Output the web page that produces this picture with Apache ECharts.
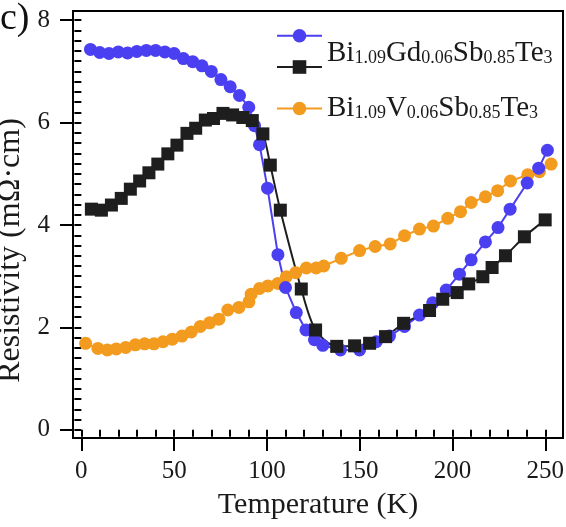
<!DOCTYPE html>
<html><head><meta charset="utf-8">
<script src="https://cdn.jsdelivr.net/npm/echarts@6/dist/echarts.min.js"></script>
<style>html,body{margin:0;padding:0;background:#fff}#c{width:566px;height:527px}</style>
</head><body><div id="c"></div>
<script>
// Bi1.09Gd0.06Sb0.85Te3 (blue circles)
const gdCircT = [4.9,9.9,14.9,19.9,24.9,29.9,35,40,45,50,55,60,65,70,75.2,80.2,85.2,90.2,93.3,96,100.3,105.9,110,115.8,121,125.6,130.1,139.6,149.9,158.9,166,174.1,182.2,189.3,196.6,203.7,210,217.7,224.5,231,240.2,246.4,251.1];
const gdCircR = [7.43,7.37,7.35,7.38,7.36,7.39,7.41,7.41,7.38,7.35,7.25,7.19,7.11,7.00,6.84,6.70,6.53,6.30,5.94,5.57,4.72,3.42,2.78,2.29,1.95,1.76,1.65,1.56,1.56,1.72,1.83,2.02,2.24,2.48,2.73,3.04,3.32,3.67,3.95,4.31,4.82,5.11,5.46];
// Bi1.09Gd0.06Sb0.85Te3 (black squares)
const gdSqT = [5.4,10.8,16.2,21.5,26.4,31.4,36.4,41.2,46.6,51.5,56.9,61.6,66.8,71.2,76.3,81.5,87,92.1,97.8,101.8,107.2,118.5,126.2,137.6,147.2,155.3,163.9,173.6,187.6,194.7,202.5,208.7,216.3,221.3,228.5,238.7,249.9];
const gdSqR = [4.31,4.29,4.39,4.52,4.70,4.86,5.02,5.19,5.39,5.56,5.79,5.89,6.05,6.08,6.18,6.15,6.10,6.04,5.78,5.17,4.29,2.75,1.95,1.63,1.64,1.69,1.82,2.08,2.33,2.55,2.68,2.85,2.99,3.17,3.40,3.77,4.10];
// Bi1.09V0.06Sb0.85Te3 (orange circles)
const vT = [2.3,8.9,14,18.8,23.9,29.1,34.1,39.1,44,49,54.2,59.2,64.1,69.1,74.1,78.9,84.9,90.3,91.5,96,100.5,105.9,110.4,115.5,121.2,126.5,130.6,140,149.9,158.3,166.4,174.1,182.2,189.7,197.4,204.3,210,217.7,224.3,231.2,240.5,246.8,253.1];
const vR = [1.69,1.59,1.56,1.58,1.61,1.66,1.68,1.68,1.72,1.77,1.83,1.91,2.02,2.09,2.16,2.34,2.39,2.50,2.65,2.76,2.81,2.86,2.99,3.07,3.16,3.16,3.20,3.35,3.50,3.58,3.63,3.79,3.92,3.98,4.13,4.26,4.44,4.55,4.67,4.86,4.98,5.04,5.19];

const xTickLabels = [0,50,100,150,200,250];
const xMinorTicks = [0,10,20,30,40,50,60,70,80,90,100,110,120,130,140,150,160,170,180,190,200,210,220,230,240,250];
const yTickLabels = [0,2,4,6,8];
const yMinorTicks = [0,0.2,0.4,0.6,0.8,1,1.2,1.4,1.6,1.8,2,2.2,2.4,2.6,2.8,3,3.2,3.4,3.6,3.8,4,4.2,4.4,4.6,4.8,5,5.2,5.4,5.6,5.8,6,6.2,6.4,6.6,6.8,7,7.2,7.4,7.6,7.8,8];

const zip = (a,b) => a.map((v,i)=>[v,b[i]]);
const FONT = 'Liberation Serif';
const TXT = '#1a1a1a';
const GD_LABEL = '{m|Bi}{s|1.09}{m|Gd}{s|0.06}{m|Sb}{s|0.85}{m|Te}{s|3}';
const V_LABEL = '{m|Bi}{s|1.09}{m|V}{s|0.06}{m|Sb}{s|0.85}{m|Te}{s|3}';
const rich = {
  m:{fontFamily:FONT,fontSize:29,color:TXT,lineHeight:30},
  s:{fontFamily:FONT,fontSize:18,color:TXT,lineHeight:18,padding:[9,0,0,0]}
};
const X_MIN=-4.5, X_MAX=259.5, Y_MIN=-0.16, Y_MAX=8.18;
const legendBase = {left:276, orient:'vertical', itemWidth:45, itemHeight:17, selectedMode:false, padding:0};

const chart = echarts.init(document.getElementById('c'), null, {renderer:'canvas'});
chart.setOption({
  animation:false,
  backgroundColor:'#fff',
  grid:{left:73, right:3, top:11, bottom:89, containLabel:false, outerBoundsMode:'none',
        show:true, borderColor:'#000', borderWidth:2, backgroundColor:'transparent'},
  graphic:[{type:'text', left:0, top:0, style:{text:'c)', fontFamily:FONT, fontSize:38, fill:'#111'}}],
  legend:[
    Object.assign({}, legendBase, {top:29, data:['gdCirc'], formatter:()=>GD_LABEL, textStyle:{rich, padding:[36,0,0,0]}}),
    Object.assign({}, legendBase, {top:58.5, data:['gdSq'], formatter:()=>''}),
    Object.assign({}, legendBase, {top:94, data:['v'], formatter:()=>V_LABEL, textStyle:{rich}})
  ],
  xAxis:[
    {type:'value', min:X_MIN, max:X_MAX, position:'bottom',
     name:'Temperature (K)', nameLocation:'middle', nameGap:52,
     nameTextStyle:{fontFamily:FONT, fontSize:30, color:TXT},
     axisLine:{show:true, onZero:false, lineStyle:{color:'#000', width:2}},
     axisTick:{show:true, customValues:xTickLabels, length:13, lineStyle:{color:'#000', width:2}},
     axisLabel:{customValues:xTickLabels, margin:21, fontFamily:FONT, fontSize:25, color:TXT},
     splitLine:{show:false}},
    {type:'value', min:X_MIN, max:X_MAX, position:'bottom', offset:0,
     axisLine:{show:false}, axisLabel:{show:false}, splitLine:{show:false},
     axisTick:{show:true, customValues:xMinorTicks, length:7, lineStyle:{color:'#000', width:2}}}
  ],
  yAxis:[
    {type:'value', min:Y_MIN, max:Y_MAX, position:'left',
     name:'Resistivity (mΩ·cm)', nameLocation:'middle', nameGap:26,
     nameTextStyle:{fontFamily:FONT, fontSize:32, color:TXT, padding:[0,52,0,0]},
     axisLine:{show:true, onZero:false, lineStyle:{color:'#000', width:2}},
     axisTick:{show:true, customValues:yTickLabels, length:13, lineStyle:{color:'#000', width:2}},
     axisLabel:{customValues:yTickLabels, margin:23, fontFamily:FONT, fontSize:25, color:TXT},
     splitLine:{show:false}},
    {type:'value', min:Y_MIN, max:Y_MAX, position:'left', offset:0,
     axisLine:{show:false}, axisLabel:{show:false}, splitLine:{show:false},
     axisTick:{show:true, customValues:yMinorTicks, length:7, lineStyle:{color:'#000', width:2}}}
  ],
  series:[
    {name:'v', type:'line', data:zip(vT,vR), symbol:'circle', symbolSize:13,
     itemStyle:{color:'#F39B1E'}, lineStyle:{color:'#F39B1E', width:2}},
    {name:'gdCirc', type:'line', data:zip(gdCircT,gdCircR), symbol:'circle', symbolSize:13,
     itemStyle:{color:'#4B3FF2'}, lineStyle:{color:'#4B3FF2', width:2}},
    {name:'gdSq', type:'line', data:zip(gdSqT,gdSqR), symbol:'rect', symbolSize:13, smooth:0.3,
     itemStyle:{color:'#1E1E1E'}, lineStyle:{color:'#1E1E1E', width:2}}
  ]
});
</script></body></html>
